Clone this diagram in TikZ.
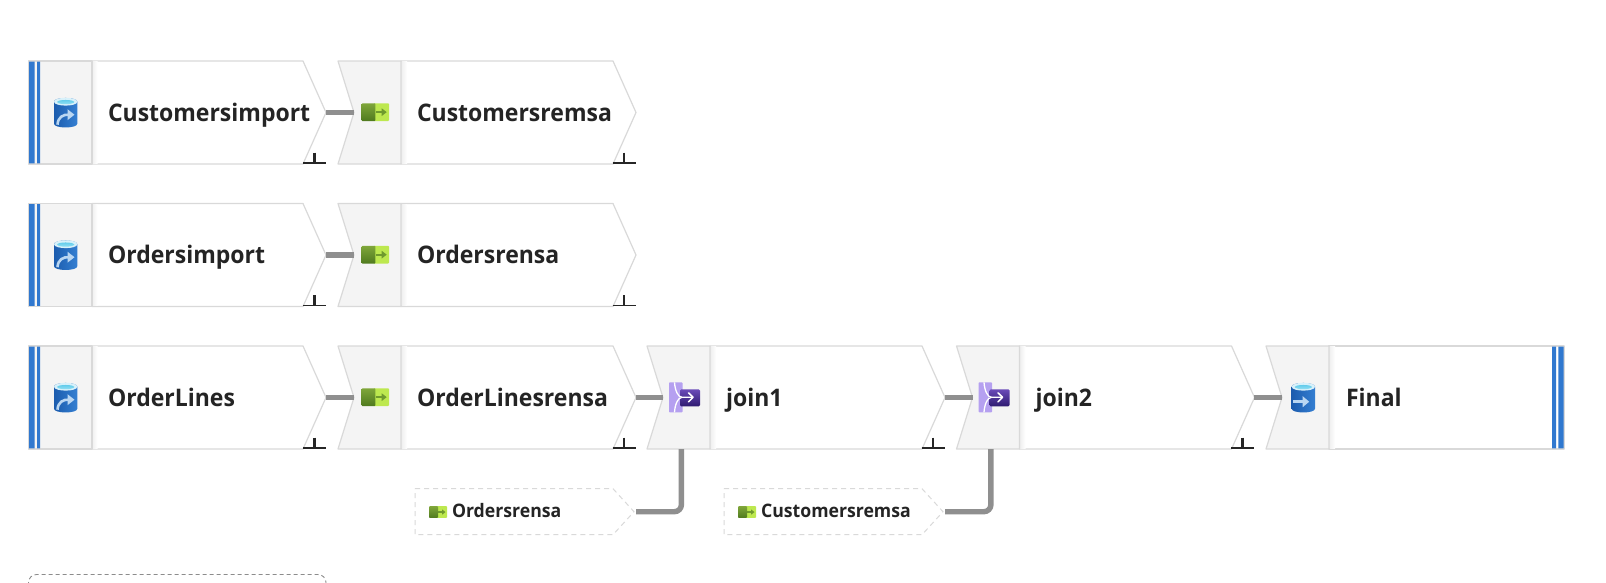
\documentclass[tikz,border=0pt]{standalone}
\usepackage{fontspec}
\setmainfont{Open Sans}
\newfontfamily\stagefont{Open Sans}[FakeStretch=0.95]
\usetikzlibrary{arrows.meta}
\definecolor{edgegray}{HTML}{D9D9D9}
\definecolor{panelgray}{HTML}{F4F4F4}
\definecolor{linkgray}{HTML}{8F8F8F}
\definecolor{barblue}{HTML}{3078CF}
\definecolor{inkblack}{HTML}{242424}
\tikzset{
  x=1pt,y=-1pt,
  stageedge/.style={draw=edgegray,line width=1.2pt,line join=round},
  stagepanel/.style={stageedge,fill=panelgray},
  stagebody/.style={stageedge,fill=white},
  stagelabel/.style={anchor=base west,inner sep=0pt,outer sep=0pt,text=inkblack,font=\stagefont\bfseries\fontsize{24.2}{28}\selectfont},
  reflabel/.style={anchor=base west,inner sep=0pt,outer sep=0pt,text=inkblack,font=\stagefont\bfseries\fontsize{18.6}{22}\selectfont},
  reflink/.style={draw=linkgray,line width=5.4pt,rounded corners=7pt},
  mainlink/.style={draw=linkgray,line width=5.4pt},
  refedge/.style={draw=edgegray,line width=1pt,dashed,dash pattern=on 5pt off 4pt},
}
\definecolor{cylA}{HTML}{1C5CAE}
\definecolor{cylB}{HTML}{347FD2}
\definecolor{cylC}{HTML}{D8F1FA}
\definecolor{cylD}{HTML}{5CC9EA}
\definecolor{cylE}{HTML}{9BE3F5}
\definecolor{arrowpale}{HTML}{B9D6F2}
\newcommand{\cylbody}{%
  \path[left color=cylA,right color=cylB]
     (0,4) -- (0,26) .. controls (0,31) and (23.3,31) .. (23.3,26) -- (23.3,4)
     .. controls (23.3,-1) and (0,-1) .. (0,4) -- cycle;
  \path[fill=cylC] (0,4) .. controls (0,-1.2) and (23.3,-1.2) .. (23.3,4)
     .. controls (23.3,9.2) and (0,9.2) .. (0,4) -- cycle;
  \path[top color=cylD,bottom color=cylE] (3,4.3) .. controls (4,1.6) and (19.3,1.6) .. (20.3,4.3)
     .. controls (19.3,7.2) and (4,7.2) .. (3,4.3) -- cycle;
}
\newcommand{\srcicon}[2]{\begin{scope}[shift={(#1,#2)}]
  \cylbody
  \draw[arrowpale,line width=2.6pt] (3.5,27) .. controls (4,19.5) and (9,16.5) .. (15,17);
  \path[fill=arrowpale] (13.5,11.5) -- (20.5,17) -- (13.5,22.5) -- cycle;
\end{scope}}
\newcommand{\snkicon}[2]{\begin{scope}[shift={(#1,#2)}]
  \cylbody
  \path[fill=arrowpale] (1,17.5) rectangle (12,20.5);
  \path[fill=arrowpale] (11,13.5) -- (17.5,19) -- (11,24.5) -- cycle;
\end{scope}}
\definecolor{greenD}{HTML}{4F7A1E}
\definecolor{greenL}{HTML}{7FA63A}
\definecolor{greenP}{HTML}{BDE84F}
\definecolor{greenA}{HTML}{6F9A2E}
\newcommand{\xficon}[3]{\begin{scope}[shift={(#1,#2)},scale=#3]
  \path[fill=greenP,rounded corners=0.8pt] (12,0) rectangle (27.3,17.7);
  \path[top color=greenL,bottom color=greenD,rounded corners=0.8pt] (0,0) rectangle (13.7,17.7);
  \path[fill=greenA] (14,7.8) rectangle (21,9.9);
  \path[fill=greenA] (20,5) -- (25,8.85) -- (20,12.7) -- cycle;
\end{scope}}
\definecolor{lilac}{HTML}{B5A0F0}
\definecolor{purpleT}{HTML}{6A4BB8}
\definecolor{purpleB}{HTML}{2E1A70}
\newcommand{\joinicon}[2]{\begin{scope}[shift={(#1,#2)}]
  \path[fill=lilac,rounded corners=0.8pt] (0,0) rectangle (13.5,30);
  \path[top color=purpleT,bottom color=purpleB,rounded corners=1.2pt] (11,7) rectangle (31,24);
  \draw[white,line width=1.3pt] (5.5,0) .. controls (6,8) and (9,15) .. (13,15) -- (24,15);
  \draw[white,line width=1.3pt] (5.5,30) .. controls (6,22) and (9,15) .. (13,15);
  \draw[white,line width=1.5pt,line cap=round,line join=round] (19.5,10.5) -- (24,15) -- (19.5,19.5);
\end{scope}}
\newcommand{\commonmarks}[1]{%
  \coordinate (#1-tip) at (297.5,51.5);
  \coordinate (#1-notch) at (16,51.5);
  \coordinate (#1-port) at (34.4,103);
}
\newcommand{\shadowstrip}{\path[left color=black!6,right color=white,draw=none] (63.6,0.7) rectangle (69,102.3);}
\newcommand{\tickmark}{\draw[black!85!white,line width=1.1pt] (274.5,102) -- (297.5,102);
  \draw[black!85!white,line width=2.6pt] (286,91.5) -- (286,102);}
\newcommand{\sourcestage}[4]{\begin{scope}[shift={(#2,#3)}]
  \path[stagebody] (63.5,0) -- (274.5,0) -- (297.5,51.5) -- (274.5,103) -- (63.5,103) -- cycle;
  \shadowstrip
  \path[stagepanel] (0,0) rectangle (63.5,103);
  \path[fill=barblue] (0.5,0.6) rectangle (6,102.4) (8.7,0.6) rectangle (11.7,102.4);
  \tickmark \commonmarks{#1}
  \node[stagelabel] (#1-label) at (79.5,60) {#4};
\end{scope}}
\newcommand{\midstage}[4]{\begin{scope}[shift={(#2,#3)}]
  \path[stagebody] (63,0) -- (275,0) -- (298,51.5) -- (275,103) -- (63,103) -- cycle;
  \shadowstrip
  \path[stagepanel] (0,0) -- (63,0) -- (63,103) -- (0,103) -- (16,51.5) -- cycle;
  \tickmark \commonmarks{#1}
  \node[stagelabel] (#1-label) at (79,60) {#4};
\end{scope}}
\newcommand{\sinkstage}[4]{\begin{scope}[shift={(#2,#3)}]
  \path[stagebody] (63,0) rectangle (298,103);
  \shadowstrip
  \path[stagepanel] (0,0) -- (63,0) -- (63,103) -- (0,103) -- (16,51.5) -- cycle;
  \path[fill=barblue] (286,0.6) rectangle (290,102.4) (292.3,0.6) rectangle (297.6,102.4);
  \commonmarks{#1}
  \node[stagelabel] (#1-label) at (80,60) {#4};
\end{scope}}
\newcommand{\refstage}[4]{\begin{scope}[shift={(#2,#3)}]
  \path[refedge] (0,0) -- (198,0) -- (219,23) -- (198,46) -- (0,46) -- cycle;
  \coordinate (#1-tip) at (221,23);
  \xficon{14}{17.5}{0.66}
  \node[reflabel] (#1-label) at (37,29) {#4};
\end{scope}}
\begin{document}
\begin{tikzpicture}
\useasboundingbox (0,0) rectangle (1606,582);
\path[fill=white] (0,0) rectangle (1606,582);

\sourcestage{ci}{28.5}{61}{Customersimport}{}
\midstage{cr}{338}{61}{Customersremsa}{}
\sourcestage{oi}{28.5}{203.5}{Ordersimport}{}
\midstage{or}{338}{203.5}{Ordersrensa}{}
\sourcestage{ol}{28.5}{346}{OrderLines}{}
\midstage{lr}{338}{346}{OrderLinesrensa}{}
\midstage{ja}{647}{346}{join1}{}
\midstage{jb}{956.5}{346}{join2}{}
\sinkstage{fi}{1266}{346}{Final}{}
\refstage{ra}{415}{488.7}{Ordersrensa}{}
\refstage{rb}{724}{488.7}{Customersremsa}{}

\srcicon{54}{97.7}
\srcicon{54}{240.2}
\srcicon{54}{382.7}
\xficon{361.7}{103.3}{1}
\xficon{361.7}{245.8}{1}
\xficon{361.7}{388.3}{1}
\joinicon{669}{382.3}
\joinicon{978.5}{382.3}
\snkicon{1291.7}{382.7}

\draw[mainlink] (ci-tip) -- (cr-notch);
\draw[mainlink] (oi-tip) -- (or-notch);
\draw[mainlink] (ol-tip) -- (lr-notch);
\draw[mainlink] (lr-tip) -- (ja-notch);
\draw[mainlink] (ja-tip) -- (jb-notch);
\draw[mainlink] (jb-tip) -- (fi-notch);
\draw[reflink] (ra-tip) -| (ja-port);
\draw[reflink] (rb-tip) -| (jb-port);

\begin{scope}
  \clip (0,0) rectangle (1606,582);
  \draw[draw=black!45,line width=0.9pt,dashed,dash pattern=on 4pt off 3pt,rounded corners=8pt]
    (28.5,600) -- (28.5,574.5) -- (326,574.5) -- (326,600);
\end{scope}
\end{tikzpicture}
\end{document}
